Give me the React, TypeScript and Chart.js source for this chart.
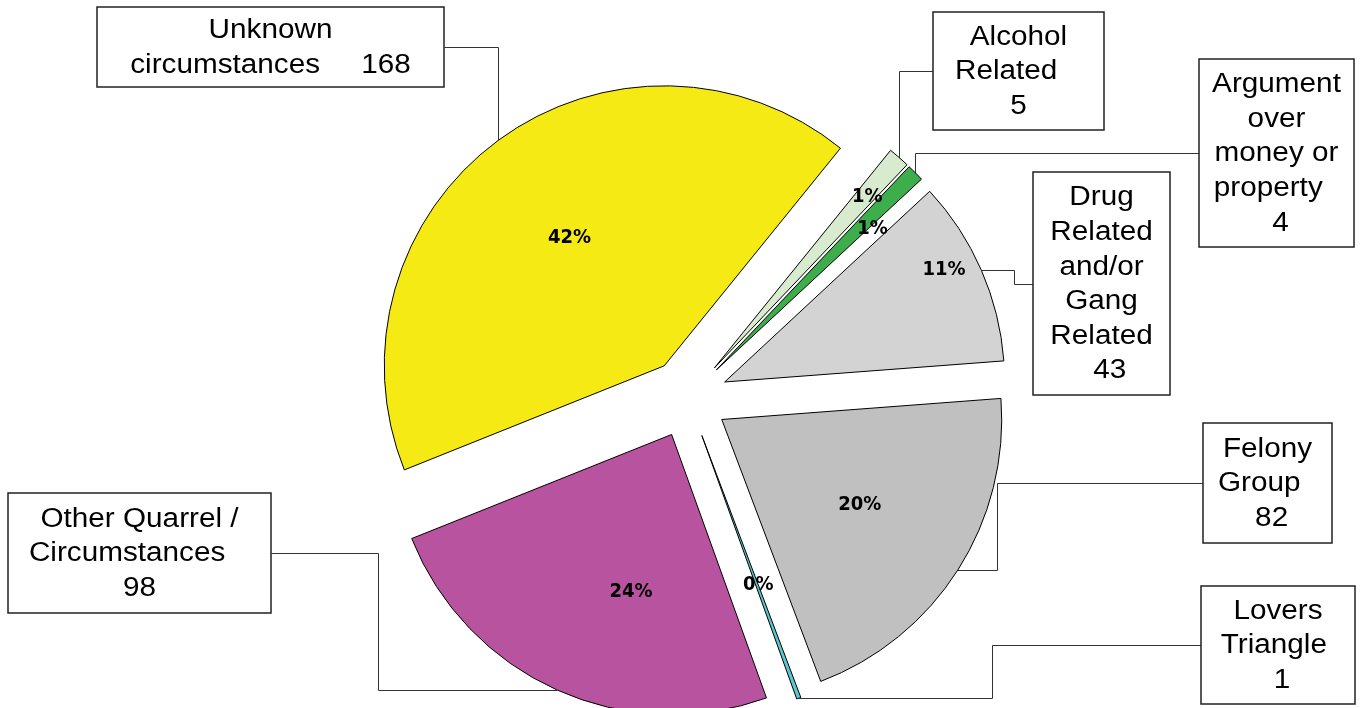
import React, { useEffect, useRef } from 'react';
import { Chart, registerables } from 'chart.js';

Chart.register(...registerables);

// ---- data ----
const categories = [
  'Alcohol Related',
  'Argument over money or property',
  'Drug Related and/or Gang Related',
  'Felony Group',
  'Lovers Triangle',
  'Other Quarrel / Circumstances',
  'Unknown circumstances',
];
const counts = [5, 4, 43, 82, 1, 98, 168];
// label text, '{n}' is replaced by the count
const labelTemplates = [
  ['Alcohol', 'Related   ', '{n}'],
  ['Argument', 'over', 'money or', 'property  ', ' {n}'],
  ['Drug', 'Related', 'and/or', 'Gang', 'Related', '  {n}'],
  ['Felony', 'Group  ', ' {n}'],
  ['Lovers', 'Triangle ', ' {n}'],
  ['Other Quarrel /', 'Circumstances   ', '{n}'],
  ['Unknown', 'circumstances     {n}'],
];

// ---- styles / layout ----
const sliceColors = ['#D8EBCE', '#3DAE4B', '#D3D3D3', '#C0C0C0', '#5CC6D0', '#B8549F', '#F5EA14'];
const EXPLODE = 40;
// callout boxes: x, y, w, h, side the leader leaves from, elbow x (null = straight to anchor x)
const boxes = [
  { x: 933, y: 12, w: 171, h: 118, side: 'left', elbowX: null },
  { x: 1199, y: 59, w: 155, h: 188, side: 'left', elbowX: null },
  { x: 1033, y: 172, w: 137, h: 223, side: 'left', elbowX: 1014 },
  { x: 1203, y: 423, w: 129, h: 120, side: 'left', elbowX: 997 },
  { x: 1201, y: 586, w: 154, h: 118, side: 'left', elbowX: 992 },
  { x: 8, y: 493, w: 263, h: 120, side: 'right', elbowX: 378 },
  { x: 97, y: 7, w: 347, h: 80, side: 'right', elbowX: null },
];
// percent label position: fraction across the slice angle, fraction of radius
const pctPos = [
  [0.62, 0.82],
  [1.25, 0.75],
  [0.41, 0.88],
  [0.49, 0.58],
  [0.0, 0.57],
  [0.39, 0.58],
  [0.5, 0.57],
];

const total = counts.reduce((a, b) => a + b, 0);

const calloutPlugin = {
  id: 'callouts',
  // draw the library's arc elements, each pushed out along its mid angle
  beforeDatasetDraw(chart: any, args: any) {
    const ctx: CanvasRenderingContext2D = chart.ctx;
    args.meta.data.forEach((arc: any) => {
      const mid = (arc.startAngle + arc.endAngle) / 2;
      ctx.save();
      ctx.translate(Math.cos(mid) * EXPLODE, Math.sin(mid) * EXPLODE);
      arc.draw(ctx, chart.chartArea);
      ctx.restore();
    });
    return false;
  },
  afterDatasetsDraw(chart: any) {
    const ctx: CanvasRenderingContext2D = chart.ctx;
    const meta = chart.getDatasetMeta(0);
    meta.data.forEach((arc: any, i: number) => {
      const p = arc.getProps(['x', 'y', 'startAngle', 'endAngle', 'outerRadius'], true);
      const mid = (p.startAngle + p.endAngle) / 2;
      const cx = p.x + Math.cos(mid) * EXPLODE;
      const cy = p.y + Math.sin(mid) * EXPLODE;
      const R = p.outerRadius;

      // percentage label
      const a = p.startAngle + (p.endAngle - p.startAngle) * pctPos[i][0];
      const r = R * pctPos[i][1];
      const pct = Math.round((counts[i] / total) * 100) + '%';
      ctx.save();
      ctx.font = "bold 20px 'DejaVu Sans Condensed', 'DejaVu Sans', sans-serif";
      ctx.fillStyle = '#000';
      ctx.textAlign = 'center';
      ctx.textBaseline = 'middle';
      ctx.fillText(pct, cx + Math.cos(a) * r, cy + Math.sin(a) * r);
      ctx.restore();

      // leader line
      const b = boxes[i];
      const ax = cx + Math.cos(mid) * R;
      const ay = cy + Math.sin(mid) * R;
      const bx = b.side === 'left' ? b.x : b.x + b.w;
      const by = b.y + b.h / 2;
      const ex = b.elbowX == null ? ax : b.elbowX;
      ctx.save();
      ctx.strokeStyle = '#333';
      ctx.lineWidth = 1;
      ctx.beginPath();
      ctx.moveTo(Math.round(bx) + 0.5, Math.round(by) + 0.5);
      ctx.lineTo(Math.round(ex) + 0.5, Math.round(by) + 0.5);
      ctx.lineTo(Math.round(ex) + 0.5, Math.round(ay) + 0.5);
      ctx.lineTo(ax, Math.round(ay) + 0.5);
      ctx.stroke();
      ctx.restore();

      // box
      ctx.save();
      ctx.fillStyle = '#fff';
      ctx.fillRect(b.x, b.y, b.w, b.h);
      ctx.strokeStyle = '#222';
      ctx.lineWidth = 1.5;
      ctx.strokeRect(b.x, b.y, b.w, b.h);
      const lines = labelTemplates[i].map((t) => t.replace('{n}', String(counts[i])));
      const lh = 34.6;
      ctx.font = "27px 'Liberation Sans', Arial, sans-serif";
      ctx.fillStyle = '#000';
      ctx.textAlign = 'center';
      ctx.textBaseline = 'middle';
      const startY = b.y + b.h / 2 - ((lines.length - 1) * lh) / 2;
      lines.forEach((ln, k) => {
        ctx.save();
        ctx.translate(b.x + b.w / 2, startY + k * lh + 1);
        ctx.scale(1.1, 1);
        ctx.fillText(ln, 0, 0);
        ctx.restore();
      });
      ctx.restore();
    });
  },
};

export default function App() {
  const ref = useRef<HTMLCanvasElement | null>(null);
  useEffect(() => {
    if (!ref.current) return;
    const chart = new Chart(ref.current, {
      type: 'pie',
      data: {
        labels: categories,
        datasets: [
          {
            data: counts,
            backgroundColor: sliceColors,
            borderColor: '#000',
            borderWidth: 1,
          },
        ],
      },
      options: {
        responsive: false,
        animation: false,
        devicePixelRatio: 1,
        rotation: 39,
        radius: 280,
        layout: { padding: { left: 14, top: 88, right: 0, bottom: 0 } },
        plugins: {
          legend: { display: false },
          tooltip: { enabled: false },
        },
      } as any,
      plugins: [calloutPlugin],
    });
    return () => chart.destroy();
  }, []);
  return (
    <div style={{ position: 'absolute', left: 0, top: 0, width: 1362, height: 708, background: '#fff' }}>
      <canvas ref={ref} width={1362} height={708} />
    </div>
  );
}
